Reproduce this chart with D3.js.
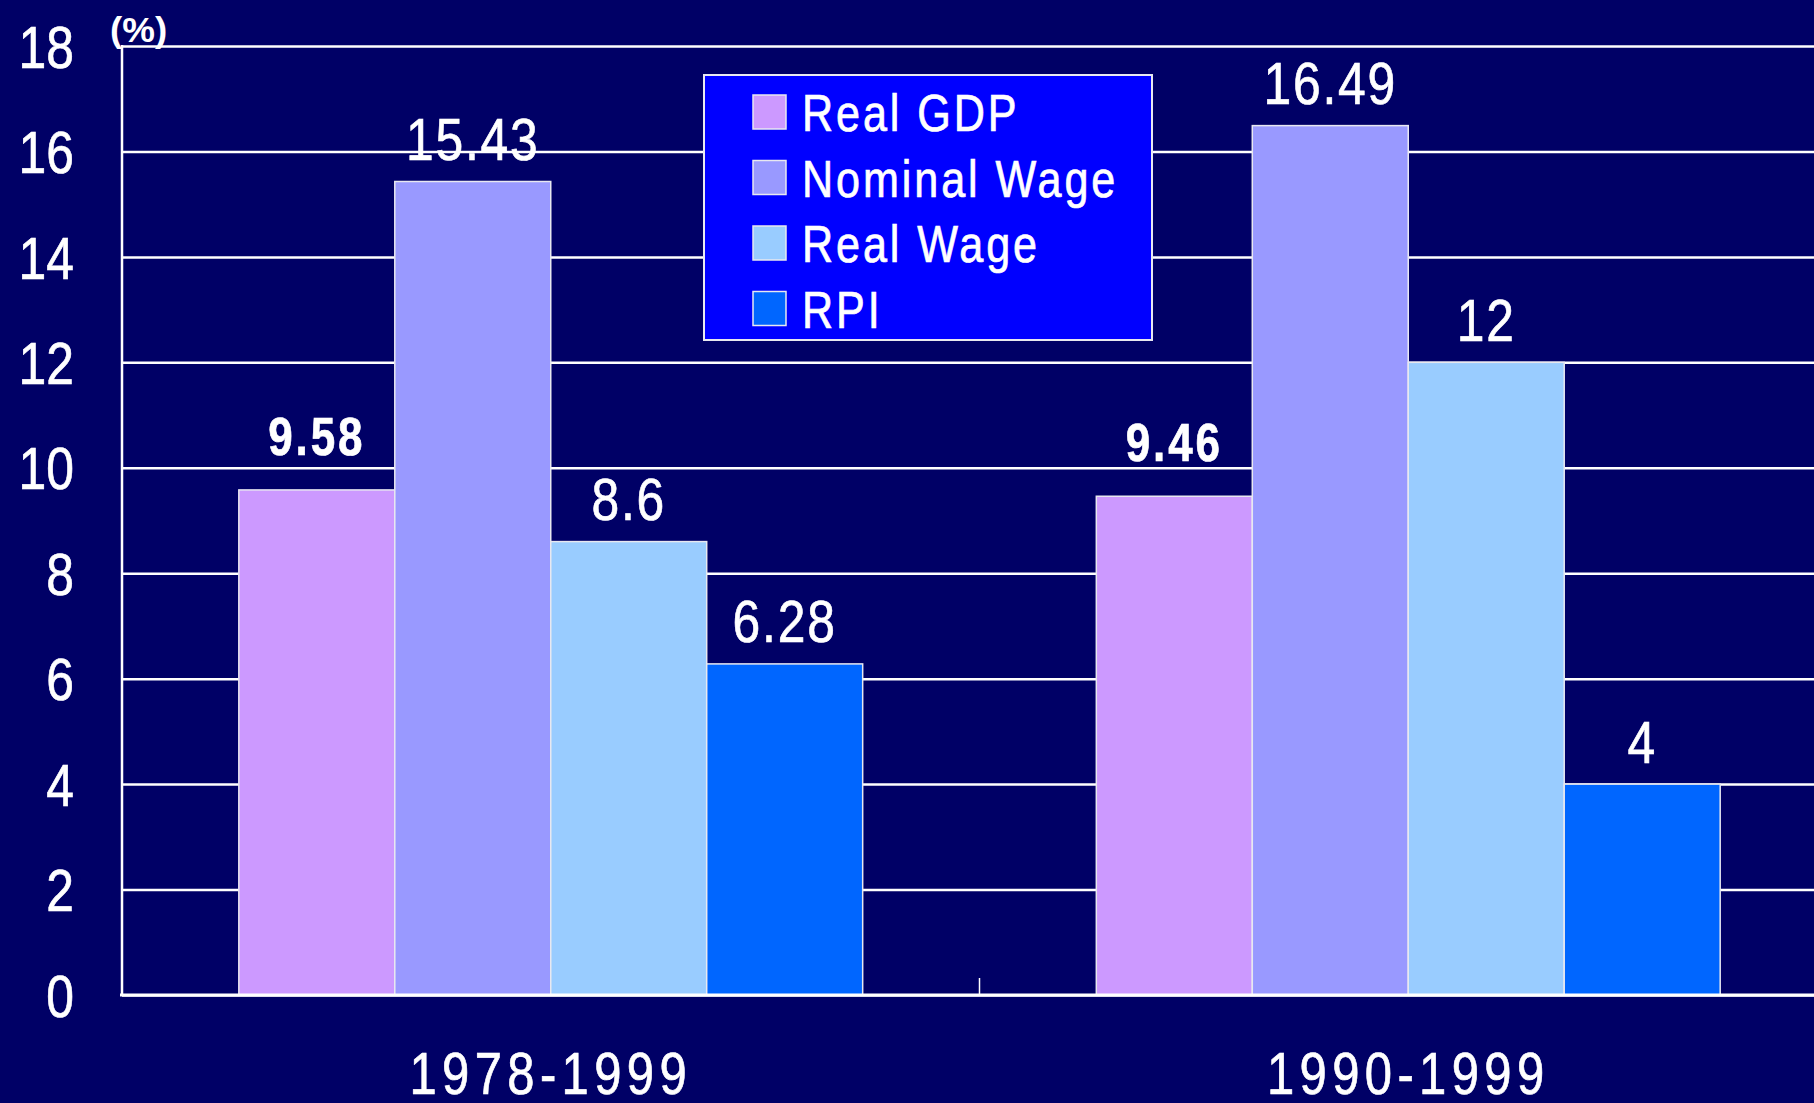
<!DOCTYPE html>
<html>
<head>
<meta charset="utf-8">
<script src="https://cdn.jsdelivr.net/npm/d3@7"></script>
<style>
  html, body { margin: 0; padding: 0; background: #000066; }
  svg { display: block; }
  text { font-family: "Liberation Sans", Arial, sans-serif; fill: #fff; stroke: #fff; stroke-width: 0.7px; }
</style>
</head>
<body>
<div id="chart"></div>
<script>
// data
var categories = ["1978-1999", "1990-1999"];
var series = ["Real GDP", "Nominal Wage", "Real Wage", "RPI"];
var values = {
  "Real GDP":     [9.58, 9.46],
  "Nominal Wage": [15.43, 16.49],
  "Real Wage":    [8.6, 12],
  "RPI":          [6.28, 4]
};
var yTicks = [0, 2, 4, 6, 8, 10, 12, 14, 16, 18];

var width = 1814, height = 1103;
var plotLeft = 122, plotBase = 995, plotTop = 46;
var sx = 0.83; // condensed look

var colors = d3.scaleOrdinal(series, ["#CC99FF", "#9999FF", "#99CCFF", "#0066FF"]);

var svg = d3.select("#chart").append("svg")
    .attr("width", width)
    .attr("height", height);

svg.append("rect").attr("width", width).attr("height", height).attr("fill", "#000066");

var y = d3.scaleLinear().domain([0, 18]).range([plotBase, plotTop]);
var x0 = d3.scaleBand().domain(categories).range([plotLeft, 1837]);
var x1 = d3.scaleBand().domain(series).range([0, x0.bandwidth()]).paddingInner(0).paddingOuter(0.749);

// gridlines
var grid = svg.append("g")
    .attr("transform", "translate(" + plotLeft + ",0)")
    .call(d3.axisLeft(y).tickValues(yTicks).tickSize(-(width - plotLeft)).tickFormat(""));
grid.select(".domain").remove();
grid.selectAll("line").attr("stroke", "#fff").attr("stroke-width", 2.5);

// y labels
svg.append("g").selectAll("text")
  .data(yTicks)
  .enter().append("text")
    .attr("transform", function(d) { return "translate(74," + y(d) + ") scale(" + sx + ",1)"; })
    .attr("dy", "0.36em")
    .attr("text-anchor", "end")
    .attr("font-size", 60)
    .text(function(d) { return d; });

svg.append("text")
    .attr("transform", "translate(110,42) scale(1.05,1)")
    .attr("font-size", 35)
    .attr("font-weight", "bold")
    .style("stroke-width", 0)
    .text("(%)");

// bars
var rows = [];
categories.forEach(function(c, i) {
  series.forEach(function(s) { rows.push({cat: c, s: s, v: values[s][i]}); });
});

svg.append("g").selectAll("rect")
  .data(rows)
  .enter().append("rect")
    .attr("x", function(d) { return x0(d.cat) + x1(d.s); })
    .attr("y", function(d) { return y(d.v); })
    .attr("width", x1.bandwidth())
    .attr("height", function(d) { return plotBase - y(d.v); })
    .attr("fill", function(d) { return colors(d.s); })
    .attr("stroke", "#e8e8f0")
    .attr("stroke-width", 1.5);

// value labels
svg.append("g").selectAll("text")
  .data(rows)
  .enter().append("text")
    .attr("transform", function(d) {
      var bold = d.s === "Real GDP";
      return "translate(" + (x0(d.cat) + x1(d.s) + x1.bandwidth() / 2) + "," + (y(d.v) - (bold ? 35 : 21.5)) + ") scale(" + sx + ",1)";
    })
    .attr("text-anchor", "middle")
    .attr("font-size", function(d) { return d.s === "Real GDP" ? 53 : 60; })
    .attr("font-weight", function(d) { return d.s === "Real GDP" ? "bold" : "normal"; })
    .attr("letter-spacing", function(d) { return d.s === "Real GDP" ? 3.5 : 2.2; })
    .text(function(d) { return d.v; });

// axes lines
svg.append("line").attr("x1", plotLeft).attr("x2", plotLeft).attr("y1", plotTop - 1).attr("y2", plotBase)
    .attr("stroke", "#fff").attr("stroke-width", 2.5);
svg.append("line").attr("x1", plotLeft - 2).attr("x2", width).attr("y1", plotBase).attr("y2", plotBase)
    .attr("stroke", "#fff").attr("stroke-width", 3);
svg.append("g").selectAll("line")
  .data(categories.slice(1))
  .enter().append("line")
    .attr("x1", function(d) { return x0(d); })
    .attr("x2", function(d) { return x0(d); })
    .attr("y1", plotBase).attr("y2", plotBase - 17)
    .attr("stroke", "#fff").attr("stroke-width", 1.5);

// category labels
svg.append("g").selectAll("text")
  .data(categories)
  .enter().append("text")
    .attr("transform", function(d) { return "translate(" + (x0(d) + x0.bandwidth() / 2) + ",1094) scale(" + sx + ",1)"; })
    .attr("text-anchor", "middle")
    .attr("font-size", 59)
    .attr("letter-spacing", 6.5)
    .text(function(d) { return d; });

// legend
var legend = svg.append("g").attr("transform", "translate(704,75)");
legend.append("rect")
    .attr("width", 448).attr("height", 265)
    .attr("fill", "#0000FF")
    .attr("stroke", "#e8e8f0").attr("stroke-width", 2);

var item = legend.selectAll(".item")
  .data(series)
  .enter().append("g")
    .attr("class", "item")
    .attr("transform", function(d, i) { return "translate(0," + (i * 65.5) + ")"; });

item.append("rect")
    .attr("x", 49).attr("y", 20)
    .attr("width", 33).attr("height", 34)
    .attr("fill", function(d) { return colors(d); })
    .attr("stroke", "#e8e8f0").attr("stroke-width", 1.5);

item.append("text")
    .attr("transform", "translate(98,56) scale(" + sx + ",1)")
    .attr("font-size", 52)
    .attr("letter-spacing", 3.5)
    .text(function(d) { return d; });
</script>
</body>
</html>
